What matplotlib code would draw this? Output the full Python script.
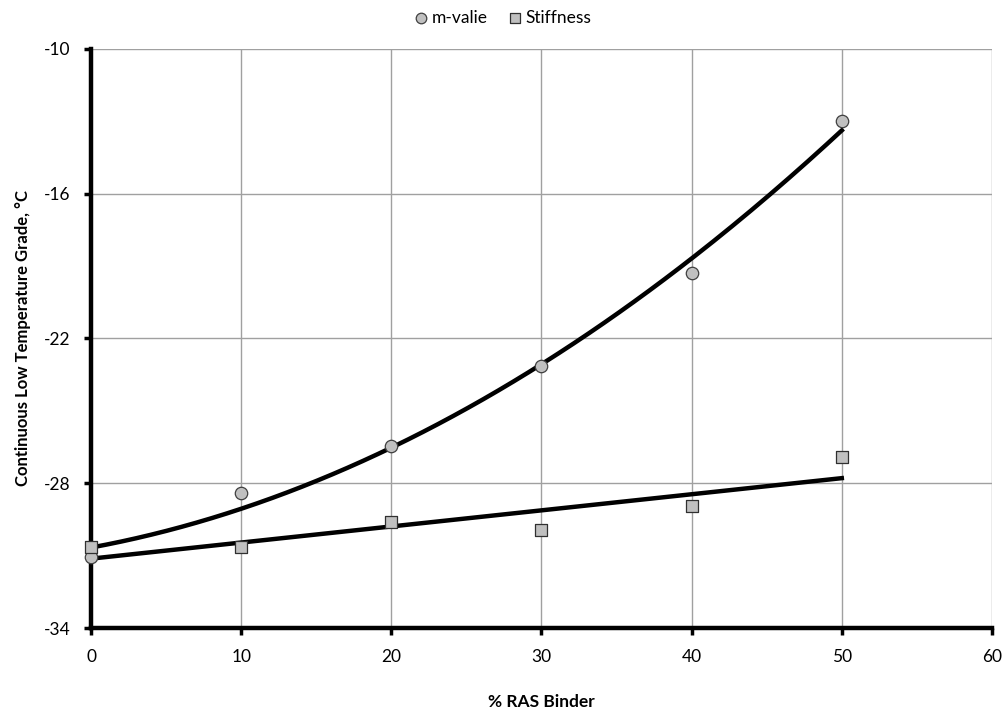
import matplotlib
matplotlib.use("Agg")
import matplotlib.pyplot as plt
import numpy as np

plt.rcParams['font.family'] = ['Lato', 'DejaVu Sans']
plt.rcParams['axes.unicode_minus'] = False

# % RAS binder content
ras = np.array([0, 10, 20, 30, 40, 50])
# continuous low temperature grade, deg C
m_value = np.array([-31.06, -28.41, -26.47, -23.16, -19.27, -13.0])
stiffness = np.array([-30.65, -30.65, -29.61, -29.95, -28.95, -26.93])

x_ticks = [0, 10, 20, 30, 40, 50, 60]
y_ticks = [-34, -28, -22, -16, -10]

fig = plt.figure(figsize=(10.08, 7.17), dpi=100)
ax = fig.add_axes([0.0903, 0.1241, 0.8938, 0.8076])

# trend lines: 2nd order poly for m-value, linear for stiffness
xs = np.linspace(0, 50, 200)
pm = np.polyfit(ras, m_value, 2)
ps = np.polyfit(ras, stiffness, 1)
ax.plot(xs, np.polyval(pm, xs), color='black', lw=3.2, zorder=3, clip_on=False)
ax.plot(xs, np.polyval(ps, xs), color='black', lw=3.2, zorder=3, clip_on=False)

ax.scatter(ras, m_value, marker='o', s=80, facecolor='#c0c0c0', edgecolor='#404040',
           lw=0.9, zorder=4, clip_on=False, label='m-valie')
ax.scatter(ras, stiffness, marker='s', s=75, facecolor='#c0c0c0', edgecolor='#303030',
           lw=0.9, zorder=4, clip_on=False, label='Stiffness')

ax.set_xlim(0, 60)
ax.set_ylim(-34, -10)
ax.set_xticks(x_ticks)
ax.set_yticks(y_ticks)
ax.grid(True, color='#a0a0a0', lw=1.0)
ax.set_axisbelow(True)

for s in ['top', 'right']:
    ax.spines[s].set_visible(False)
for s in ['left', 'bottom']:
    ax.spines[s].set_linewidth(3.2)
    ax.spines[s].set_color('black')
ax.tick_params(axis='both', direction='out', length=5, width=2.5, labelsize=12.5, pad=10)

ax.set_xlabel('% RAS Binder', fontsize=12.5, fontweight='bold', labelpad=21)
ax.set_ylabel('Continuous Low Temperature Grade, °C', fontsize=12, fontweight='bold', labelpad=9)

fig.legend(loc='upper center', bbox_to_anchor=(0.497, 1.008), ncol=2, frameon=False,
           fontsize=12.5, handletextpad=0.0, columnspacing=1.0, handlelength=1.2,
           markerscale=0.85)

fig.savefig('out.png', dpi=100)
